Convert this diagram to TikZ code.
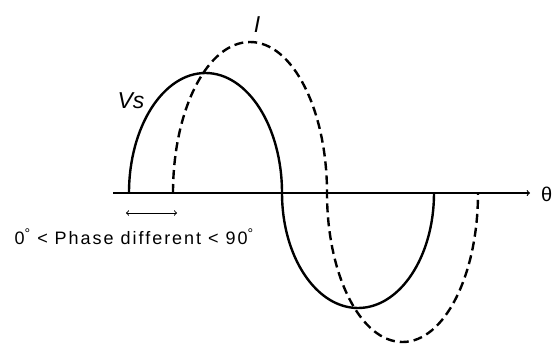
\documentclass[tikz,border=0pt]{standalone}
\usepackage{fontspec}
\setmainfont{Liberation Sans}
\usepackage{tikz}

\newcommand{\degsign}{\raisebox{6pt}{\fontsize{14}{14}\selectfont °}}

\begin{document}
\begin{tikzpicture}[x=1pt, y=1pt,
        wave/.style={line width=2.4pt},
        lagwave/.style={line width=2.4pt, dash pattern=on 9pt off 5pt},
        axis/.style={->, line width=1.2pt},
        gap/.style={<->, line width=1pt},
        lbl/.style={inner sep=0pt, font=\fontsize{23}{25}\selectfont\itshape}
    ]
        \useasboundingbox (0,0) rectangle (554,-345);
        % axis
        \coordinate (o)     at (113,-193);
        \coordinate (axend) at (530,-193);
        \draw[axis] (o) -- (axend);
        \node[inner sep=0pt, anchor=west, font=\fontsize{20}{22}\selectfont] (theta) at (541,-194) {θ};
        % Vs and I
        \draw[wave] (129,-193) arc[start angle=180, end angle=0, x radius=76.5pt, y radius=120pt]
                               arc[start angle=180, end angle=360, x radius=76pt, y radius=115pt];
        \draw[lagwave] (173,-193) arc[start angle=180, end angle=0, x radius=77pt, y radius=151pt]
                                  arc[start angle=180, end angle=360, x radius=75.5pt, y radius=149pt];
        \node[lbl] (vs) at (131,-101) {Vs};
        \node[lbl] (cur) at (257,-25) {I};
        % phase gap
        \coordinate (ga) at (126,-213);
        \coordinate (gb) at (177,-213);
        \draw[gap] (ga) -- (gb);
        \node[inner sep=0pt, font=\fontsize{18}{20}\selectfont\addfontfeatures{LetterSpace=11}] (note) at (134,-237)
            {0\degsign{} < Phase different < 90\degsign};
    \end{tikzpicture}
\end{document}
